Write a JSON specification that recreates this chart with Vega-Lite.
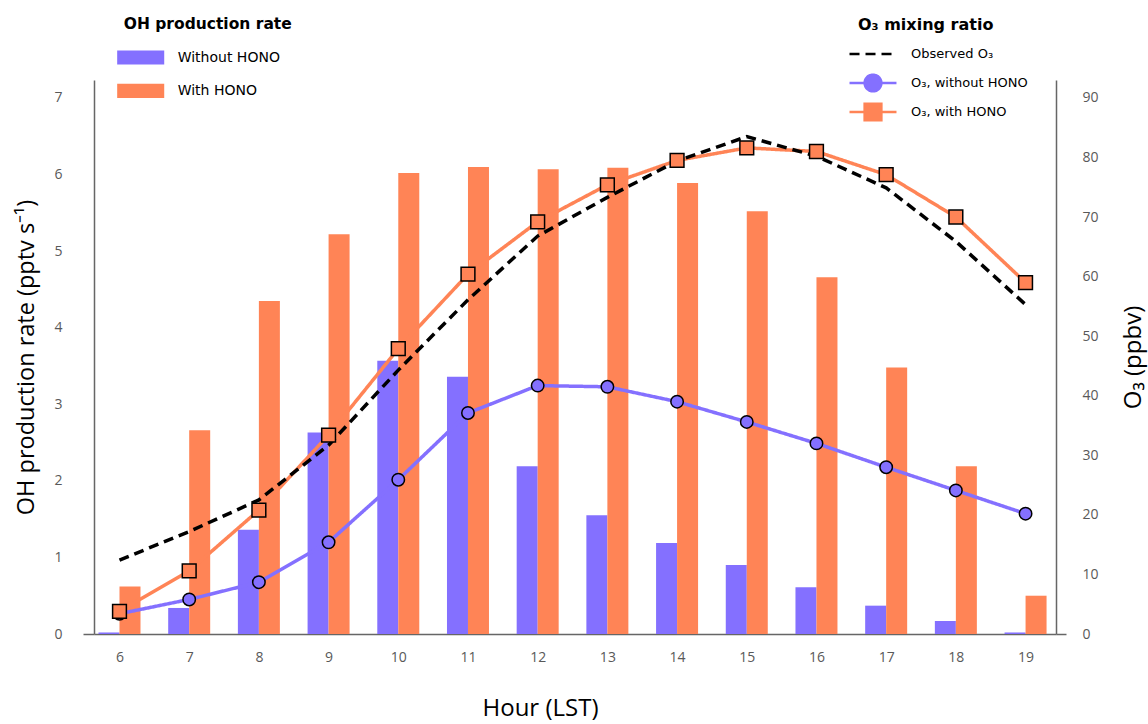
{
  "$schema": "https://vega.github.io/schema/vega-lite/v6.json",
  "width": 962,
  "height": 554,
  "autosize": {"type": "none"},
  "padding": {"left": 94, "top": 80, "right": 92, "bottom": 90},
  "background": "white",
  "config": {"view": {"stroke": null}, "font": "Open Sans"},
  "datasets": {
    "oh": [
      {"hour": 6, "case": "Without HONO", "rate": 0.02}, {"hour": 6, "case": "With HONO", "rate": 0.62},
      {"hour": 7, "case": "Without HONO", "rate": 0.34}, {"hour": 7, "case": "With HONO", "rate": 2.66},
      {"hour": 8, "case": "Without HONO", "rate": 1.36}, {"hour": 8, "case": "With HONO", "rate": 4.35},
      {"hour": 9, "case": "Without HONO", "rate": 2.63}, {"hour": 9, "case": "With HONO", "rate": 5.22},
      {"hour": 10, "case": "Without HONO", "rate": 3.57}, {"hour": 10, "case": "With HONO", "rate": 6.02},
      {"hour": 11, "case": "Without HONO", "rate": 3.36}, {"hour": 11, "case": "With HONO", "rate": 6.10},
      {"hour": 12, "case": "Without HONO", "rate": 2.19}, {"hour": 12, "case": "With HONO", "rate": 6.07},
      {"hour": 13, "case": "Without HONO", "rate": 1.55}, {"hour": 13, "case": "With HONO", "rate": 6.09},
      {"hour": 14, "case": "Without HONO", "rate": 1.19}, {"hour": 14, "case": "With HONO", "rate": 5.89},
      {"hour": 15, "case": "Without HONO", "rate": 0.90}, {"hour": 15, "case": "With HONO", "rate": 5.52},
      {"hour": 16, "case": "Without HONO", "rate": 0.61}, {"hour": 16, "case": "With HONO", "rate": 4.66},
      {"hour": 17, "case": "Without HONO", "rate": 0.37}, {"hour": 17, "case": "With HONO", "rate": 3.48},
      {"hour": 18, "case": "Without HONO", "rate": 0.17}, {"hour": 18, "case": "With HONO", "rate": 2.19},
      {"hour": 19, "case": "Without HONO", "rate": 0.02}, {"hour": 19, "case": "With HONO", "rate": 0.50}
    ],
    "o3": [
      {"hour": 6, "series": "O₃, without HONO", "o3": 3.4},
      {"hour": 7, "series": "O₃, without HONO", "o3": 5.8},
      {"hour": 8, "series": "O₃, without HONO", "o3": 8.7},
      {"hour": 9, "series": "O₃, without HONO", "o3": 15.4},
      {"hour": 10, "series": "O₃, without HONO", "o3": 25.9},
      {"hour": 11, "series": "O₃, without HONO", "o3": 37.1},
      {"hour": 12, "series": "O₃, without HONO", "o3": 41.7},
      {"hour": 13, "series": "O₃, without HONO", "o3": 41.5},
      {"hour": 14, "series": "O₃, without HONO", "o3": 39.0},
      {"hour": 15, "series": "O₃, without HONO", "o3": 35.6},
      {"hour": 16, "series": "O₃, without HONO", "o3": 32.0},
      {"hour": 17, "series": "O₃, without HONO", "o3": 28.0},
      {"hour": 18, "series": "O₃, without HONO", "o3": 24.1},
      {"hour": 19, "series": "O₃, without HONO", "o3": 20.2},
      {"hour": 6, "series": "O₃, with HONO", "o3": 3.8},
      {"hour": 7, "series": "O₃, with HONO", "o3": 10.6},
      {"hour": 8, "series": "O₃, with HONO", "o3": 20.8},
      {"hour": 9, "series": "O₃, with HONO", "o3": 33.4},
      {"hour": 10, "series": "O₃, with HONO", "o3": 47.9},
      {"hour": 11, "series": "O₃, with HONO", "o3": 60.4},
      {"hour": 12, "series": "O₃, with HONO", "o3": 69.2},
      {"hour": 13, "series": "O₃, with HONO", "o3": 75.4},
      {"hour": 14, "series": "O₃, with HONO", "o3": 79.5},
      {"hour": 15, "series": "O₃, with HONO", "o3": 81.6},
      {"hour": 16, "series": "O₃, with HONO", "o3": 81.0},
      {"hour": 17, "series": "O₃, with HONO", "o3": 77.1},
      {"hour": 18, "series": "O₃, with HONO", "o3": 70.0},
      {"hour": 19, "series": "O₃, with HONO", "o3": 59.0},
      {"hour": 6, "series": "Observed O₃", "o3": 12.4},
      {"hour": 7, "series": "Observed O₃", "o3": 17.2},
      {"hour": 8, "series": "Observed O₃", "o3": 22.5},
      {"hour": 9, "series": "Observed O₃", "o3": 31.7},
      {"hour": 10, "series": "Observed O₃", "o3": 44.3},
      {"hour": 11, "series": "Observed O₃", "o3": 56.1},
      {"hour": 12, "series": "Observed O₃", "o3": 66.8},
      {"hour": 13, "series": "Observed O₃", "o3": 73.3},
      {"hour": 14, "series": "Observed O₃", "o3": 79.4},
      {"hour": 15, "series": "Observed O₃", "o3": 83.5},
      {"hour": 16, "series": "Observed O₃", "o3": 80.2},
      {"hour": 17, "series": "Observed O₃", "o3": 74.9},
      {"hour": 18, "series": "Observed O₃", "o3": 65.9},
      {"hour": 19, "series": "Observed O₃", "o3": 55.3}
    ]
  },
  "encoding": {
    "x": {
      "field": "hour",
      "type": "quantitative",
      "scale": {"domain": [5.706, 19.365], "nice": false, "zero": false},
      "axis": {
        "values": [6, 7, 8, 9, 10, 11, 12, 13, 14, 15, 16, 17, 18, 19],
        "tickSize": 0,
        "labelPadding": 16,
        "labelFont": "Open Sans",
        "labelFontSize": 14,
        "labelColor": "#595959",
        "labelFlush": false,
        "grid": false,
        "domainColor": "#666666",
        "domainWidth": 1.5,
        "title": "Hour (LST)",
        "titleFont": "Open Sans",
        "titleFontSize": 24,
        "titleFontWeight": "normal",
        "titleColor": "black",
        "titleX": 446,
        "titlePadding": 32
      }
    }
  },
  "layer": [
    {
      "data": {"name": "oh"},
      "encoding": {
        "y": {
          "field": "rate",
          "type": "quantitative",
          "scale": {"domain": [0, 7.235], "nice": false},
          "axis": {
            "orient": "left",
            "values": [0, 1, 2, 3, 4, 5, 6, 7],
            "tickSize": 11,
            "tickColor": "#666666",
            "tickWidth": 1.5,
            "tickOpacity": {"condition": {"test": "datum.value === 0", "value": 1}, "value": 0},
            "labelPadding": 21,
            "labelFont": "Open Sans",
            "labelFontSize": 14,
            "labelColor": "#595959",
            "grid": false,
            "domainColor": "#666666",
            "domainWidth": 1.5,
            "title": "OH production rate (pptv s⁻¹)",
            "titleFont": "Open Sans",
            "titleFontSize": 23.5,
            "titleFontWeight": "normal",
            "titleColor": "black",
            "titlePadding": 15
          }
        },
        "color": {
          "field": "case",
          "type": "nominal",
          "scale": {"domain": ["Without HONO", "With HONO"], "range": ["#8470FF", "#FF8456"]},
          "legend": {
            "title": "OH production rate",
            "orient": "none",
            "legendX": 29.7,
            "legendY": -63,
            "padding": 0,
            "symbolType": "M-1.4,-0.42H1.4V0.42H-1.4Z",
            "symbolSize": 1129,
            "symbolStrokeWidth": 0,
            "symbolOpacity": 1,
            "labelOffset": 20,
            "rowPadding": 8.4,
            "titlePadding": 8,
            "titleFont": "DejaVu Sans",
            "titleFontSize": 15.5,
            "titleFontWeight": "bold",
            "titleColor": "black",
            "labelFont": "DejaVu Sans",
            "labelFontSize": 14,
            "labelColor": "black"
          }
        }
      },
      "layer": [
        {
          "transform": [{"filter": "datum.case === 'Without HONO'"}],
          "mark": {"type": "bar", "width": 21, "xOffset": -10.5}
        },
        {
          "transform": [{"filter": "datum.case === 'With HONO'"}],
          "mark": {"type": "bar", "width": 21, "xOffset": 10.5}
        }
      ]
    },
    {
      "data": {"name": "o3"},
      "encoding": {
        "y": {
          "field": "o3",
          "type": "quantitative",
          "scale": {"domain": [0, 93], "nice": false},
          "axis": {
            "orient": "right",
            "values": [0, 10, 20, 30, 40, 50, 60, 70, 80, 90],
            "tickSize": 10,
            "tickColor": "#666666",
            "tickWidth": 1.5,
            "tickOpacity": {"condition": {"test": "datum.value === 0", "value": 1}, "value": 0},
            "labelPadding": 16,
            "labelFont": "Open Sans",
            "labelFontSize": 14,
            "labelColor": "#595959",
            "grid": false,
            "domainColor": "#666666",
            "domainWidth": 1.5,
            "title": "O₃ (ppbv)",
            "titleAngle": 270,
            "titleFont": "Open Sans",
            "titleFontSize": 24,
            "titleFontWeight": "normal",
            "titleColor": "black",
            "titlePadding": 47
          }
        }
      },
      "layer": [
        {
          "mark": {"type": "line", "strokeWidth": 3.5},
          "encoding": {
            "stroke": {
              "field": "series",
              "type": "nominal",
              "scale": {"domain": ["Observed O₃", "O₃, without HONO", "O₃, with HONO"], "range": ["black", "#8470FF", "#FF8456"]},
              "legend": {
                "title": "O₃ mixing ratio",
                "orient": "none",
                "legendX": 764,
                "legendY": -63,
                "padding": 0,
                "symbolSize": 729,
                "symbolStrokeWidth": 2.5,
                "labelOffset": 23,
                "rowPadding": 0,
                "titlePadding": 6,
                "titleFont": "DejaVu Sans",
                "titleFontSize": 16,
                "titleFontWeight": "bold",
                "titleColor": "black",
                "labelFont": "DejaVu Sans",
                "labelFontSize": 13,
                "labelColor": "black",
                "encode": {
                  "symbols": {
                    "update": {
                      "shape": {"signal": "datum.value === 'Observed O₃' ? 'M0,-0.62M0,0.62M-1.74,0H1.74' : datum.value === 'O₃, without HONO' ? 'M-1.74,0H-0.62M0.62,0H1.74M-0.62,0A0.62,0.62 0 1,1 0.62,0A0.62,0.62 0 1,1 -0.62,0Z' : 'M-1.74,0H-0.62M0.62,0H1.74M-0.62,-0.62H0.62V0.62H-0.62Z'"},
                      "fill": {"signal": "datum.value === 'Observed O₃' ? 'transparent' : datum.value === 'O₃, without HONO' ? '#8470FF' : '#FF8456'"},
                      "strokeDash": {"signal": "datum.value === 'Observed O₃' ? [5, 3] : [1, 0]"},
                      "strokeWidth": {"value": 2.5}
                    }
                  }
                }
              }
            },
            "strokeDash": {
              "field": "series",
              "type": "nominal",
              "scale": {"domain": ["Observed O₃", "O₃, without HONO", "O₃, with HONO"], "range": [[10, 6], [1, 0], [1, 0]]},
              "legend": null
            }
          }
        },
        {
          "transform": [{"filter": "datum.series === 'O₃, without HONO'"}],
          "mark": {"type": "point", "shape": "circle", "filled": true, "fill": "#8470FF", "stroke": "black", "strokeWidth": 1.5, "size": 155, "opacity": 1}
        },
        {
          "transform": [{"filter": "datum.series === 'O₃, with HONO'"}],
          "mark": {"type": "point", "shape": "square", "filled": true, "fill": "#FF8456", "stroke": "black", "strokeWidth": 1.5, "size": 190, "opacity": 1}
        }
      ]
    }
  ],
  "resolve": {"scale": {"y": "independent"}}
}
